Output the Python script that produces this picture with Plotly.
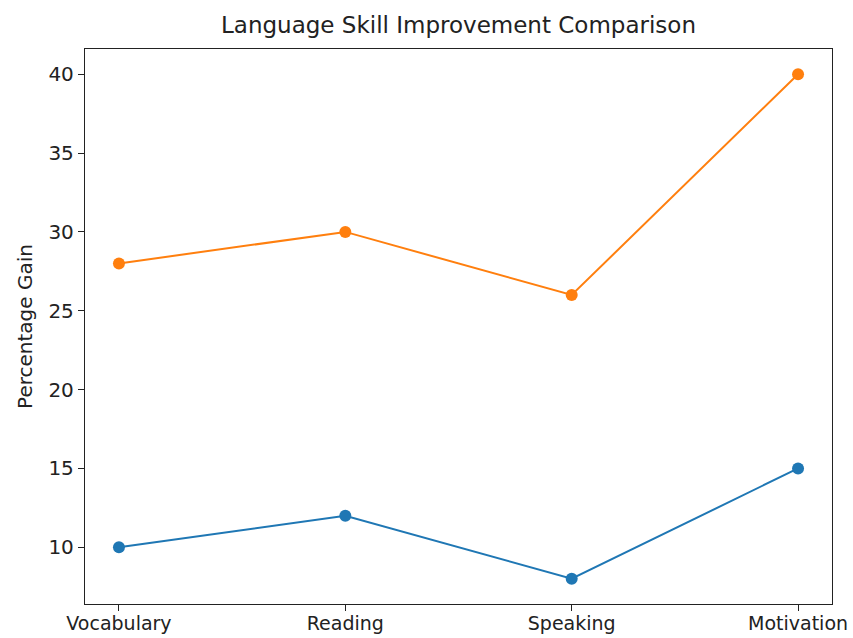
import plotly.graph_objects as go

categories = ["Vocabulary", "Reading", "Speaking", "Motivation"]
series_a = [10, 12, 8, 15]
series_b = [28, 30, 26, 40]

fig = go.Figure()
fig.add_trace(go.Scatter(x=categories, y=series_a, mode="lines+markers", name="Traditional",
                         line=dict(color="#1f77b4", width=2), marker=dict(size=12, color="#1f77b4")))
fig.add_trace(go.Scatter(x=categories, y=series_b, mode="lines+markers", name="App-based",
                         line=dict(color="#ff7f0e", width=2), marker=dict(size=12, color="#ff7f0e")))

font = "DejaVu Sans"
W, H = 853, 638
fig.update_layout(
    width=W, height=H,
    margin=dict(l=85, r=21, t=49, b=34, autoexpand=False),
    paper_bgcolor="white", plot_bgcolor="white",
    showlegend=False,
    title=dict(text="Language Skill Improvement Comparison", x=(85 + 832) / 2 / W, xanchor="center",
               y=1 - 25 / H, yanchor="middle", font=dict(family=font, size=23, color="#222")),
    font=dict(family=font, size=20, color="#222"),
)
fig.update_xaxes(range=[-0.15, 3.15], showline=True, linecolor="#222", linewidth=1.3, mirror=True,
                 ticks="outside", ticklen=6, tickcolor="#222", showgrid=False, zeroline=False,
                 automargin=False, ticklabelstandoff=-4,
                 tickfont=dict(family=font, size=19, color="#222"))
fig.update_yaxes(range=[6.4, 41.6], showline=True, linecolor="#222", linewidth=1.3, mirror=True,
                 ticks="outside", ticklen=6, tickcolor="#222", showgrid=False, zeroline=False,
                 automargin=False,
                 tickvals=[10, 15, 20, 25, 30, 35, 40],
                 tickfont=dict(family=font, size=20, color="#222"),
                 title=dict(text="Percentage Gain", font=dict(family=font, size=20, color="#222"), standoff=10))

fig.write_html("out.html", config={"displayModeBar": False},
               post_script="document.body.style.margin='0';document.body.style.overflow='hidden';")
